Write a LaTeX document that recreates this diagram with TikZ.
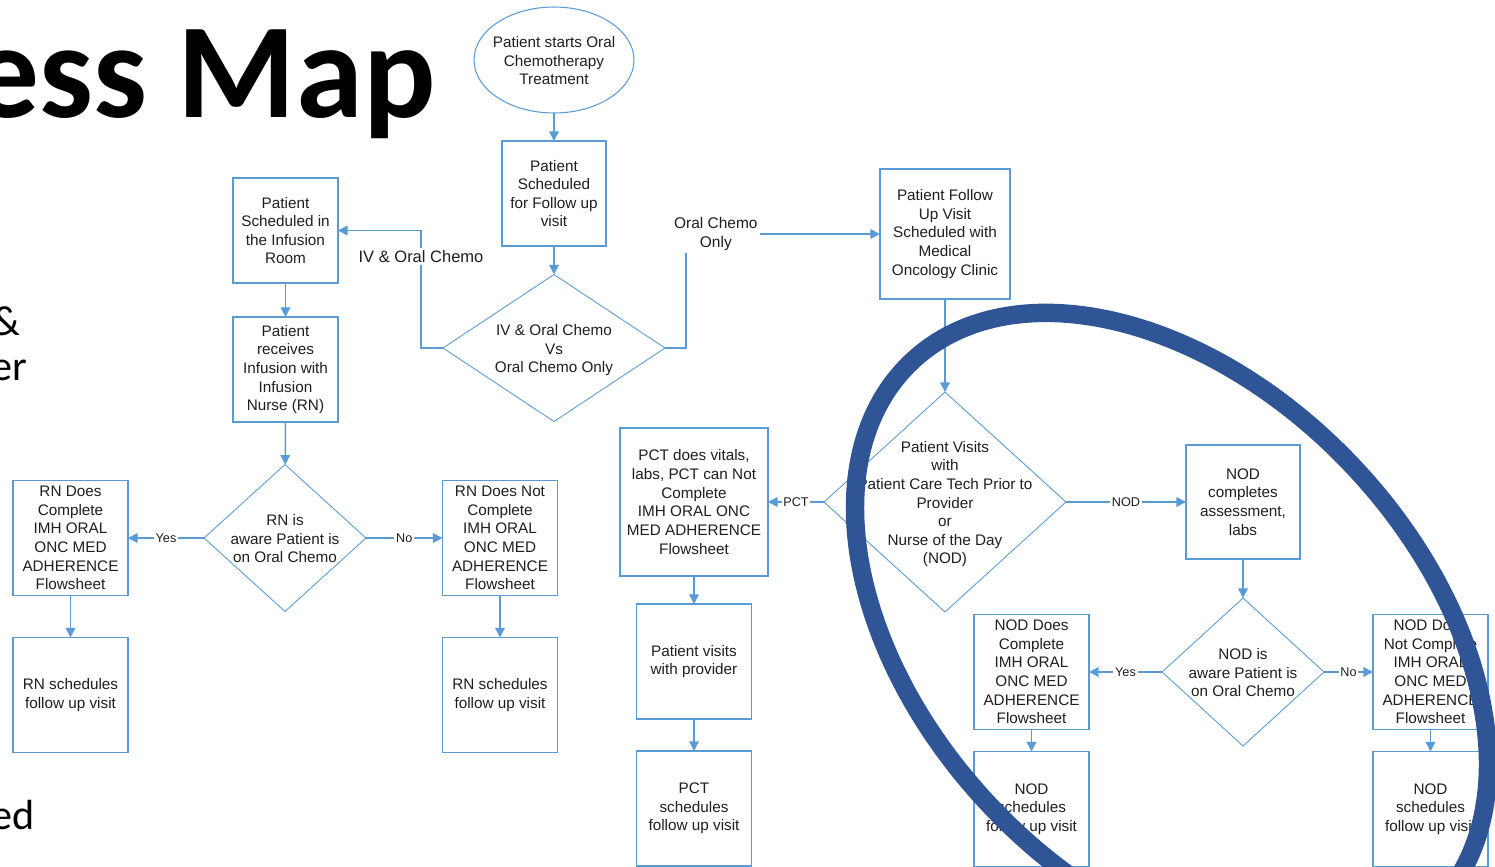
\documentclass[tikz,border=0pt]{standalone}
\usepackage{fontspec}
\setmainfont{Liberation Sans}
\newfontfamily\slidefont{Carlito}
\usetikzlibrary{arrows.meta, positioning, shapes.geometric}
\definecolor{flowblue}{HTML}{5B9BD5}
\definecolor{ringblue}{HTML}{2F5597}
\definecolor{textgray}{HTML}{1E1E1E}
\newcommand{\ctext}[1]{\smash{\makebox[0pt]{\raisebox{-3.6pt}{\begin{tabular}{@{}c@{}}#1\end{tabular}}}}}

\begin{document}
\begin{tikzpicture}[
  x=0.02cm, y=-0.02cm,
  box/.style       = {rectangle, draw=flowblue, line width=0.65pt, align=center,
                      font=\fontsize{8.7}{10.6}\selectfont, text=textgray,
                      inner sep=2pt, outer sep=0pt,
                      minimum width=2.3cm, minimum height=2.3cm},
  decision/.style  = {diamond, draw=flowblue, line width=0.5pt, inner sep=0pt,
                      outer sep=0pt, font=\fontsize{8.7}{10.6}\selectfont,
                      text=textgray},
  startnode/.style = {ellipse, draw=flowblue, line width=0.6pt, inner sep=0pt,
                      outer sep=0pt, font=\fontsize{8.7}{10.6}\selectfont,
                      text=textgray, minimum width=3.2cm, minimum height=2.12cm},
  arrow/.style     = {-{Triangle[length=5.5pt,width=5.5pt]}, line width=0.85pt,
                      draw=flowblue},
  edgelabel/.style = {fill=white, inner sep=1pt, text=textgray,
                      font=\fontsize{7.2}{8}\selectfont},
  pathlabel/.style = {fill=white, inner sep=1.5pt, align=center, text=textgray,
                      font=\fontsize{8.8}{10.6}\selectfont},
  slidetext/.style = {anchor=base east, inner sep=0pt,
                      font=\slidefont\fontsize{24}{28}\selectfont},
  ring/.style      = {draw=ringblue, line width=10.5pt},
]
\useasboundingbox (0,0) rectangle (1495,866);
\clip (0,0) rectangle (1495,866);

% Slide text
\node[anchor=base east, inner sep=0pt,
      font=\slidefont\bfseries\fontsize{77}{80}\selectfont] (title) at (436,117) {ess Map};
\node[slidetext] (fraga) at (21,335) {\&};
\node[slidetext] (fragb) at (28,380) {er};
\node[slidetext] (fragc) at (35,829) {ed};

% Nodes
\node[startnode] (start) at (554,60) {\ctext{Patient starts Oral\\Chemotherapy\\Treatment}};
\node[box, minimum width=2.08cm, minimum height=2.1cm] (sched) at (554,193.5)
      {Patient\\Scheduled\\for Follow up\\visit};
\node[decision, minimum width=4.44cm, minimum height=2.94cm] (choice) at (554,348)
      {\ctext{IV \& Oral Chemo\\Vs\\Oral Chemo Only}};

\node[box, minimum size=2.1cm] (infusion) at (285.5,230.5)
      {Patient\\Scheduled in\\the Infusion\\Room};
\node[box, minimum size=2.1cm, below=0.68cm of infusion] (receives)
      {Patient\\receives\\Infusion with\\Infusion\\Nurse (RN)};
\node[decision, minimum width=3.24cm, minimum height=2.94cm] (rnaware) at (285,538)
      {\ctext{RN is\\aware Patient is\\on Oral Chemo}};
\node[box] (rndoes) at (70.5,538)
      {RN Does\\Complete\\IMH ORAL\\ONC MED\\ADHERENCE\\Flowsheet};
\node[box, below=0.84cm of rndoes] (rnsched) {RN schedules\\follow up visit};
\node[box] (rndoesnot) at (500,538)
      {RN Does Not\\Complete\\IMH ORAL\\ONC MED\\ADHERENCE\\Flowsheet};
\node[box, below=0.84cm of rndoesnot] (rnschedb) {RN schedules\\follow up visit};

\node[box, minimum size=2.6cm] (followup) at (945,234)
      {Patient Follow\\Up Visit\\Scheduled with\\Medical\\Oncology Clinic};
\node[decision, minimum width=4.84cm, minimum height=4.4cm] (visit) at (945,502)
      {\ctext{Patient Visits\\with\\Patient Care Tech Prior to\\Provider\\or\\Nurse of the Day\\(NOD)}};
\node[box, minimum size=2.96cm] (pct) at (694,502)
      {PCT does vitals,\\labs, PCT can Not\\Complete\\IMH ORAL ONC\\MED ADHERENCE\\Flowsheet};
\node[box, below=0.56cm of pct] (provider) {Patient visits\\with provider};
\node[box, below=0.64cm of provider] (pctsched) {PCT\\schedules\\follow up visit};

\node[box, minimum size=2.28cm] (nodassess) at (1243,502)
      {NOD\\completes\\assessment,\\labs};
\node[decision, minimum width=3.24cm, minimum height=2.96cm] (nodaware) at (1243,672)
      {\ctext{NOD is\\aware Patient is\\on Oral Chemo}};
\node[box] (noddoes) at (1031.5,672)
      {NOD Does\\Complete\\IMH ORAL\\ONC MED\\ADHERENCE\\Flowsheet};
\node[box, below=0.44cm of noddoes] (nodsched) {NOD\\schedules\\follow up visit};
\node[box] (noddoesnot) at (1430.5,672)
      {NOD Does\\Not Complete\\IMH ORAL\\ONC MED\\ADHERENCE\\Flowsheet};
\node[box, below=0.44cm of noddoesnot] (nodschedb) {NOD\\schedules\\follow up visit};

% Arrows
\draw[arrow] (start) -- (sched);
\draw[arrow] (sched) -- (choice);
\draw[arrow] (choice.west) -- ++(-22,0) |- (infusion.east)
      node[pathlabel, pos=0.39, font=\fontsize{9.4}{11}\selectfont] {IV \& Oral Chemo};
\draw[arrow] (choice.east) -- ++(21,0) |- (followup.west)
      node[pathlabel, pos=0.577] {Oral Chemo\\Only};
\draw[arrow] (infusion) -- (receives);
\draw[arrow] (receives) -- (rnaware);
\draw[arrow] (rnaware.west) -- (rndoes.east) node[edgelabel, midway] {Yes};
\draw[arrow] (rnaware.east) -- (rndoesnot.west) node[edgelabel, midway] {No};
\draw[arrow] (rndoes) -- (rnsched);
\draw[arrow] (rndoesnot) -- (rnschedb);
\draw[arrow] (followup) -- (visit);
\draw[arrow] (visit.west) -- (pct.east) node[edgelabel, midway] {PCT};
\draw[arrow] (visit.east) -- (nodassess.west) node[edgelabel, midway] {NOD};
\draw[arrow] (pct) -- (provider);
\draw[arrow] (provider) -- (pctsched);
\draw[arrow] (nodassess) -- (nodaware);
\draw[arrow] (nodaware.west) -- (noddoes.east) node[edgelabel, midway] {Yes};
\draw[arrow] (nodaware.east) -- (noddoesnot.west) node[edgelabel, midway] {No};
\draw[arrow] (noddoes) -- (nodsched);
\draw[arrow] (noddoesnot) -- (nodschedb);

% Highlight ring
\draw[ring, rotate around={-46.5:(1171.5,636)}] (1171.5,636)
      ellipse [x radius=7.56cm, y radius=4.97cm];
\end{tikzpicture}
\end{document}
